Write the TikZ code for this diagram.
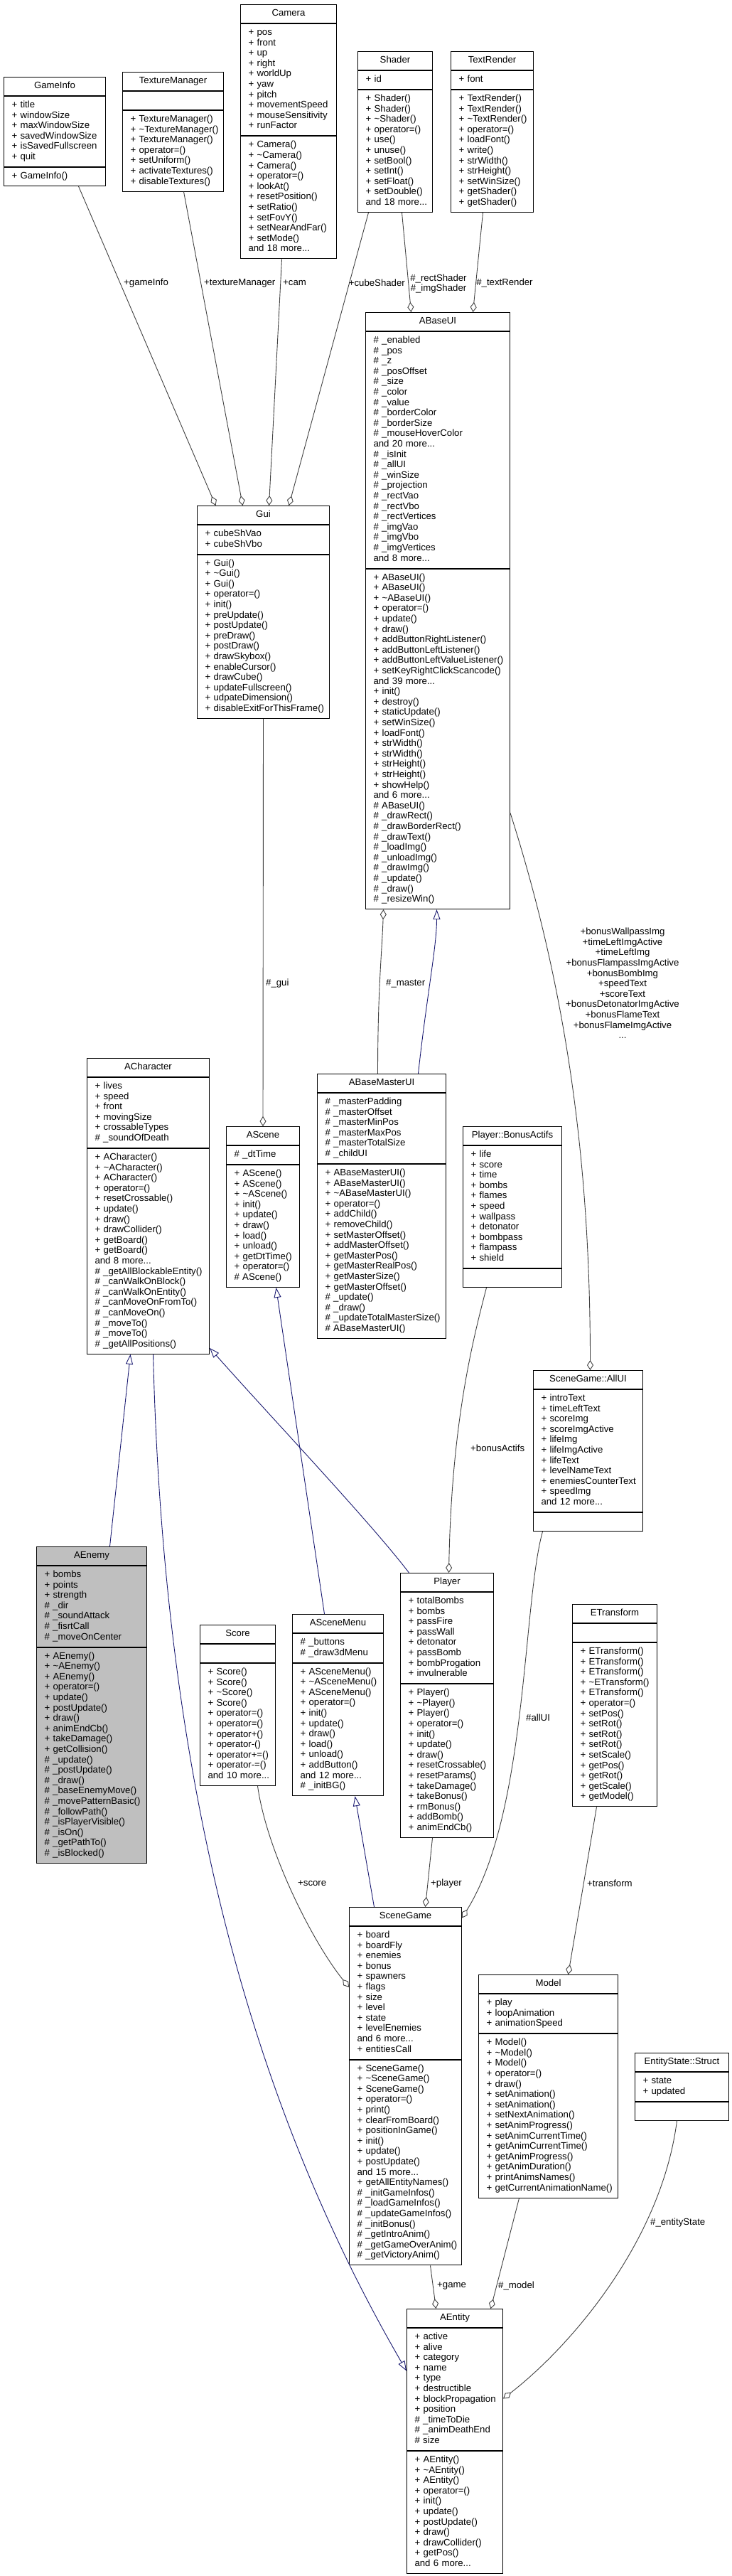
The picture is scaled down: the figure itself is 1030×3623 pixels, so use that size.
\documentclass[tikz,border=0pt]{standalone}
\usepackage{fontspec}
\setmainfont{Liberation Sans}
\usepackage{xcolor}
\usepackage{tikz}
\usetikzlibrary{positioning, arrows.meta}
\definecolor{dxedge}{HTML}{404040}
\definecolor{dxbase}{HTML}{191970}
\definecolor{dxfocus}{HTML}{BFBFBF}
\hyphenpenalty=10000
\newcommand{\tld}{\textasciitilde}

\begin{document}
\begin{tikzpicture}[
  x=1pt, y=-1pt,
  font=\fontsize{13.2}{14.6}\selectfont,
  cls/.style={
    rectangle, draw=black, line width=1pt, text width=#1pt,
    inner xsep=0pt, inner ysep=5.7pt,
    execute at begin node={\centering\strut},
    execute at end node={\strut}
  },
  mem/.style={
    rectangle, draw=black, line width=1pt, text width=#1pt,
    inner xsep=0pt, inner ysep=5.7pt,
    execute at begin node={\raggedright\leftskip=11pt\strut},
    execute at end node={\strut}
  },
  agg/.style={draw=dxedge, line width=0.9pt,
    -{Diamond[open, length=14pt, width=9pt]}},
  inh/.style={draw=dxbase, line width=0.9pt,
    -{Triangle[open, length=14pt, width=10pt]}},
  lbl/.style={inner sep=0pt, align=center},
]
\useasboundingbox (0,0) rectangle (1030,3623);

% GameInfo
\node[cls=143, anchor=north west] (gameinfo) at (5,108) {GameInfo};
\node[mem=143, below=0pt of gameinfo] (gameinfo-a) {+ title\\+ windowSize\\+ maxWindowSize\\
  + savedWindowSize\\+ isSavedFullscreen\\+ quit};
\node[mem=143, below=0pt of gameinfo-a] (gameinfo-m) {+ GameInfo()};

% TextureManager
\node[cls=142, anchor=north west] (texmgr) at (172,101) {TextureManager};
\node[mem=142, below=0pt of texmgr] (texmgr-a) {};
\node[mem=142, below=0pt of texmgr-a] (texmgr-m) {+ TextureManager()\\+ \tld TextureManager()\\
  + TextureManager()\\+ operator=()\\+ setUniform()\\+ activateTextures()\\+ disableTextures()};

% Camera
\node[cls=135, anchor=north west] (camera) at (338,6) {Camera};
\node[mem=135, below=0pt of camera] (camera-a) {+ pos\\+ front\\+ up\\+ right\\+ worldUp\\+ yaw\\
  + pitch\\+ movementSpeed\\+ mouseSensitivity\\+ runFactor};
\node[mem=135, below=0pt of camera-a] (camera-m) {+ Camera()\\+ \tld Camera()\\+ Camera()\\
  + operator=()\\+ lookAt()\\+ resetPosition()\\+ setRatio()\\+ setFovY()\\+ setNearAndFar()\\
  + setMode()\\and 18 more...};

% Shader
\node[cls=105, anchor=north west] (shader) at (503,72) {Shader};
\node[mem=105, below=0pt of shader] (shader-a) {+ id};
\node[mem=105, below=0pt of shader-a] (shader-m) {+ Shader()\\+ Shader()\\+ \tld Shader()\\
  + operator=()\\+ use()\\+ unuse()\\+ setBool()\\+ setInt()\\+ setFloat()\\+ setDouble()\\
  and 18 more...};

% TextRender
\node[cls=116, anchor=north west] (textrender) at (634,72) {TextRender};
\node[mem=116, below=0pt of textrender] (textrender-a) {+ font};
\node[mem=116, below=0pt of textrender-a] (textrender-m) {+ TextRender()\\+ TextRender()\\
  + \tld TextRender()\\+ operator=()\\+ loadFont()\\+ write()\\+ strWidth()\\+ strHeight()\\
  + setWinSize()\\+ getShader()\\+ getShader()};

% Gui
\node[cls=186, anchor=north west] (gui) at (277,711) {Gui};
\node[mem=186, below=0pt of gui] (gui-a) {+ cubeShVao\\+ cubeShVbo};
\node[mem=186, below=0pt of gui-a] (gui-m) {+ Gui()\\+ \tld Gui()\\+ Gui()\\+ operator=()\\
  + init()\\+ preUpdate()\\+ postUpdate()\\+ preDraw()\\+ postDraw()\\+ drawSkybox()\\
  + enableCursor()\\+ drawCube()\\+ updateFullscreen()\\+ udpateDimension()\\
  + disableExitForThisFrame()};

% ABaseUI
\node[cls=203, anchor=north west] (abaseui) at (514,439) {ABaseUI};
\node[mem=203, below=0pt of abaseui] (abaseui-a) {\# \_enabled\\\# \_pos\\\# \_z\\\# \_posOffset\\
  \# \_size\\\# \_color\\\# \_value\\\# \_borderColor\\\# \_borderSize\\\# \_mouseHoverColor\\
  and 20 more...\\\# \_isInit\\\# \_allUI\\\# \_winSize\\\# \_projection\\\# \_rectVao\\
  \# \_rectVbo\\\# \_rectVertices\\\# \_imgVao\\\# \_imgVbo\\\# \_imgVertices\\and 8 more...};
\node[mem=203, below=0pt of abaseui-a] (abaseui-m) {+ ABaseUI()\\+ ABaseUI()\\+ \tld ABaseUI()\\
  + operator=()\\+ update()\\+ draw()\\+ addButtonRightListener()\\+ addButtonLeftListener()\\
  + addButtonLeftValueListener()\\+ setKeyRightClickScancode()\\and 39 more...\\+ init()\\
  + destroy()\\+ staticUpdate()\\+ setWinSize()\\+ loadFont()\\+ strWidth()\\+ strWidth()\\
  + strHeight()\\+ strHeight()\\+ showHelp()\\and 6 more...\\\# ABaseUI()\\\# \_drawRect()\\
  \# \_drawBorderRect()\\\# \_drawText()\\\# \_loadImg()\\\# \_unloadImg()\\\# \_drawImg()\\
  \# \_update()\\\# \_draw()\\\# \_resizeWin()};

% ACharacter
\node[cls=172, anchor=north west] (achar) at (122,1488) {ACharacter};
\node[mem=172, below=0pt of achar] (achar-a) {+ lives\\+ speed\\+ front\\+ movingSize\\
  + crossableTypes\\\# \_soundOfDeath};
\node[mem=172, below=0pt of achar-a] (achar-m) {+ ACharacter()\\+ \tld ACharacter()\\
  + ACharacter()\\+ operator=()\\+ resetCrossable()\\+ update()\\+ draw()\\+ drawCollider()\\
  + getBoard()\\+ getBoard()\\and 8 more...\\\# \_getAllBlockableEntity()\\
  \# \_canWalkOnBlock()\\\# \_canWalkOnEntity()\\\# \_canMoveOnFromTo()\\\# \_canMoveOn()\\
  \# \_moveTo()\\\# \_moveTo()\\\# \_getAllPositions()};

% AScene
\node[cls=103, anchor=north west] (ascene) at (318,1584) {AScene};
\node[mem=103, below=0pt of ascene] (ascene-a) {\# \_dtTime};
\node[mem=103, below=0pt of ascene-a] (ascene-m) {+ AScene()\\+ AScene()\\+ \tld AScene()\\
  + init()\\+ update()\\+ draw()\\+ load()\\+ unload()\\+ getDtTime()\\+ operator=()\\
  \# AScene()};

% ABaseMasterUI
\node[cls=181, anchor=north west] (amaster) at (446,1510) {ABaseMasterUI};
\node[mem=181, below=0pt of amaster] (amaster-a) {\# \_masterPadding\\\# \_masterOffset\\
  \# \_masterMinPos\\\# \_masterMaxPos\\\# \_masterTotalSize\\\# \_childUI};
\node[mem=181, below=0pt of amaster-a] (amaster-m) {+ ABaseMasterUI()\\+ ABaseMasterUI()\\
  + \tld ABaseMasterUI()\\+ operator=()\\+ addChild()\\+ removeChild()\\+ setMasterOffset()\\
  + addMasterOffset()\\+ getMasterPos()\\+ getMasterRealPos()\\+ getMasterSize()\\
  + getMasterOffset()\\\# \_update()\\\# \_draw()\\\# \_updateTotalMasterSize()\\
  \# ABaseMasterUI()};

% Player::BonusActifs
\node[cls=139, anchor=north west] (bonus) at (651,1584) {Player::BonusActifs};
\node[mem=139, below=0pt of bonus] (bonus-a) {+ life\\+ score\\+ time\\+ bombs\\+ flames\\
  + speed\\+ wallpass\\+ detonator\\+ bombpass\\+ flampass\\+ shield};
\node[mem=139, below=0pt of bonus-a] (bonus-m) {};

% SceneGame::AllUI
\node[cls=154, anchor=north west] (allui) at (750,1927) {SceneGame::AllUI};
\node[mem=154, below=0pt of allui] (allui-a) {+ introText\\+ timeLeftText\\+ scoreImg\\
  + scoreImgActive\\+ lifeImg\\+ lifeImgActive\\+ lifeText\\+ levelNameText\\
  + enemiesCounterText\\+ speedImg\\and 12 more...};
\node[mem=154, below=0pt of allui-a] (allui-m) {};

% AEnemy
\node[cls=155, fill=dxfocus, anchor=north west] (aenemy) at (51,2175) {AEnemy};
\node[mem=155, fill=dxfocus, below=0pt of aenemy] (aenemy-a) {+ bombs\\+ points\\+ strength\\
  \# \_dir\\\# \_soundAttack\\\# \_fisrtCall\\\# \_moveOnCenter};
\node[mem=155, fill=dxfocus, below=0pt of aenemy-a] (aenemy-m) {+ AEnemy()\\+ \tld AEnemy()\\
  + AEnemy()\\+ operator=()\\+ update()\\+ postUpdate()\\+ draw()\\+ animEndCb()\\
  + takeDamage()\\+ getCollision()\\\# \_update()\\\# \_postUpdate()\\\# \_draw()\\
  \# \_baseEnemyMove()\\\# \_movePatternBasic()\\\# \_followPath()\\\# \_isPlayerVisible()\\
  \# \_isOn()\\\# \_getPathTo()\\\# \_isBlocked()};

% Score
\node[cls=106, anchor=north west] (score) at (281,2285) {Score};
\node[mem=106, below=0pt of score] (score-a) {};
\node[mem=106, below=0pt of score-a] (score-m) {+ Score()\\+ Score()\\+ \tld Score()\\+ Score()\\
  + operator=()\\+ operator=()\\+ operator+()\\+ operator-()\\+ operator+=()\\+ operator-=()\\
  and 10 more...};

% ASceneMenu
\node[cls=128, anchor=north west] (amenu) at (411,2270) {ASceneMenu};
\node[mem=128, below=0pt of amenu] (amenu-a) {\# \_buttons\\\# \_draw3dMenu};
\node[mem=128, below=0pt of amenu-a] (amenu-m) {+ ASceneMenu()\\+ \tld ASceneMenu()\\
  + ASceneMenu()\\+ operator=()\\+ init()\\+ update()\\+ draw()\\+ load()\\+ unload()\\
  + addButton()\\and 12 more...\\\# \_initBG()};

% Player
\node[cls=131, anchor=north west] (player) at (563,2212) {Player};
\node[mem=131, below=0pt of player] (player-a) {+ totalBombs\\+ bombs\\+ passFire\\+ passWall\\
  + detonator\\+ passBomb\\+ bombProgation\\+ invulnerable};
\node[mem=131, below=0pt of player-a] (player-m) {+ Player()\\+ \tld Player()\\+ Player()\\
  + operator=()\\+ init()\\+ update()\\+ draw()\\+ resetCrossable()\\+ resetParams()\\
  + takeDamage()\\+ takeBonus()\\+ rmBonus()\\+ addBomb()\\+ animEndCb()};

% ETransform
\node[cls=119, anchor=north west] (etransform) at (805,2256) {ETransform};
\node[mem=119, below=0pt of etransform] (etransform-a) {};
\node[mem=119, below=0pt of etransform-a] (etransform-m) {+ ETransform()\\+ ETransform()\\
  + ETransform()\\+ \tld ETransform()\\+ ETransform()\\+ operator=()\\+ setPos()\\+ setRot()\\
  + setRot()\\+ setRot()\\+ setScale()\\+ getPos()\\+ getRot()\\+ getScale()\\+ getModel()};

% SceneGame
\node[cls=158, anchor=north west] (scenegame) at (491,2682) {SceneGame};
\node[mem=158, below=0pt of scenegame] (scenegame-a) {+ board\\+ boardFly\\+ enemies\\+ bonus\\
  + spawners\\+ flags\\+ size\\+ level\\+ state\\+ levelEnemies\\and 6 more...\\+ entitiesCall};
\node[mem=158, below=0pt of scenegame-a] (scenegame-m) {+ SceneGame()\\+ \tld SceneGame()\\
  + SceneGame()\\+ operator=()\\+ print()\\+ clearFromBoard()\\+ positionInGame()\\+ init()\\
  + update()\\+ postUpdate()\\and 15 more...\\+ getAllEntityNames()\\\# \_initGameInfos()\\
  \# \_loadGameInfos()\\\# \_updateGameInfos()\\\# \_initBonus()\\\# \_getIntroAnim()\\
  \# \_getGameOverAnim()\\\# \_getVictoryAnim()};

% Model
\node[cls=196, anchor=north west] (model) at (673,2777) {Model};
\node[mem=196, below=0pt of model] (model-a) {+ play\\+ loopAnimation\\+ animationSpeed};
\node[mem=196, below=0pt of model-a] (model-m) {+ Model()\\+ \tld Model()\\+ Model()\\
  + operator=()\\+ draw()\\+ setAnimation()\\+ setAnimation()\\+ setNextAnimation()\\
  + setAnimProgress()\\+ setAnimCurrentTime()\\+ getAnimCurrentTime()\\+ getAnimProgress()\\
  + getAnimDuration()\\+ printAnimsNames()\\+ getCurrentAnimationName()};

% EntityState::Struct
\node[cls=132, anchor=north west] (estate) at (893,2887) {EntityState::Struct};
\node[mem=132, below=0pt of estate] (estate-a) {+ state\\+ updated};
\node[mem=132, below=0pt of estate-a] (estate-m) {};

% AEntity
\node[cls=135, anchor=north west] (aentity) at (572,3247) {AEntity};
\node[mem=135, below=0pt of aentity] (aentity-a) {+ active\\+ alive\\+ category\\+ name\\+ type\\
  + destructible\\+ blockPropagation\\+ position\\\# \_timeToDie\\\# \_animDeathEnd\\\# size};
\node[mem=135, below=0pt of aentity-a] (aentity-m) {+ AEntity()\\+ \tld AEntity()\\+ AEntity()\\
  + operator=()\\+ init()\\+ update()\\+ postUpdate()\\+ draw()\\+ drawCollider()\\+ getPos()\\
  and 6 more...};

% members used by Gui and ABaseUI
\draw[agg] ([xshift=33.5pt]gameinfo-m.south) -- ([xshift=-67pt]gui.north);
\draw[agg] ([xshift=15pt]texmgr-m.south) -- ([xshift=-29pt]gui.north);
\draw[agg] ([xshift=-9.5pt]camera-m.south) -- ([xshift=8pt]gui.north);
\draw[agg] ([xshift=-37.5pt]shader-m.south) -- ([xshift=36pt]gui.north);
\draw[agg] ([xshift=9.5pt]shader-m.south) -- ([xshift=-37.5pt]abaseui.north);
\draw[agg] ([xshift=-13pt]textrender-m.south) -- ([xshift=49.5pt]abaseui.north);
\node[lbl, anchor=west] (l-gameinfo) at (174,398) {+gameInfo};
\node[lbl, anchor=west] (l-texmgr) at (287,398) {+textureManager};
\node[lbl, anchor=west] (l-cam) at (398,398) {+cam};
\node[lbl, anchor=east] (l-cube) at (570,398) {+cubeShader};
\node[lbl] (l-shaders) at (617,399) {\#\_rectShader\\\#\_imgShader};
\node[lbl] (l-textrender) at (710,398) {\#\_textRender};

% scenes and ui
\draw[agg] (gui-m.south) -- (ascene.north);
\node[lbl, anchor=west] (l-gui) at (374,1383) {\#\_gui};
\draw[agg] ([xshift=-5.5pt]amaster.north) .. controls +(0,-120) and +(-2,60) .. ([xshift=-76.5pt]abaseui-m.south);
\draw[inh] ([xshift=51.5pt]amaster.north) .. controls +(12,-110) and +(0,52) .. ([xshift=-1.5pt]abaseui-m.south);
\node[lbl, anchor=west] (l-master) at (543,1383) {\#\_master};
\draw[agg] ([yshift=-104pt]abaseui-m.east) .. controls +(83,260) and +(0,-277) .. ([xshift=3pt]allui.north);
\node[lbl] (l-uilist) at (876,1383) {+bonusWallpassImg\\+timeLeftImgActive\\+timeLeftImg\\
  +bonusFlampassImgActive\\+bonusBombImg\\+speedText\\+scoreText\\+bonusDetonatorImgActive\\
  +bonusFlameText\\+bonusFlameImgActive\\...};

% characters
\draw[agg] ([xshift=-36.5pt]bonus-m.south) .. controls +(-19,73) and +(4,-212) .. ([xshift=2.5pt]player.north);
\node[lbl, anchor=west] (l-bonus) at (662,2037) {+bonusActifs};
\draw[inh] ([xshift=-53.5pt]player.north) .. controls +(-55,-72) and +(86,97) .. ([yshift=9pt]achar-m.south east);
\draw[inh] ([xshift=25.5pt]aenemy.north) -- ([xshift=-25pt]achar-m.south);
\draw[inh] ([xshift=7pt]achar-m.south) .. controls +(15,598) and +(-222,-383) .. ([yshift=26pt]aentity-a.west);
\draw[inh] ([xshift=-19pt]amenu.north) -- ([xshift=18.5pt]ascene-m.south);
\draw[inh] ([xshift=-44pt]scenegame.north) -- ([xshift=24pt]amenu-m.south);

% SceneGame members
\draw[agg] ([xshift=-20.5pt]player-m.south) -- ([xshift=28pt]scenegame.north);
\node[lbl, anchor=west] (l-player) at (606,2649) {+player};
\draw[agg] ([xshift=28pt]score-m.south) .. controls +(13,92) and +(-51,-63) .. ([yshift=8pt]scenegame-a.west);
\node[lbl, anchor=west] (l-score) at (419,2649) {+score};
\draw[agg] ([xshift=-64pt]allui-m.south) .. controls +(-28,100) and +(92,-147) .. ([yshift=-2pt]scenegame.east);
\node[lbl, anchor=west] (l-allui) at (740,2416) {\#allUI};
\draw[agg] ([xshift=-25.5pt]etransform-m.south) -- ([xshift=28pt]model.north);
\node[lbl, anchor=west] (l-transform) at (826,2649) {+transform};

% AEntity members
\draw[agg] ([xshift=35pt]scenegame-m.south) -- ([xshift=-26.5pt]aentity.north);
\node[lbl, anchor=west] (l-game) at (615,3215) {+game};
\draw[agg] ([xshift=-41pt]model-m.south) -- ([xshift=50.5pt]aentity.north);
\node[lbl, anchor=west] (l-model) at (701,3215) {\#\_model};
\draw[agg] ([xshift=-7pt]estate-m.south) .. controls +(-22,171) and +(93,-72) .. ([yshift=-13pt]aentity-a.east);
\node[lbl, anchor=west] (l-estate) at (915,3126) {\#\_entityState};

\end{tikzpicture}
\end{document}
